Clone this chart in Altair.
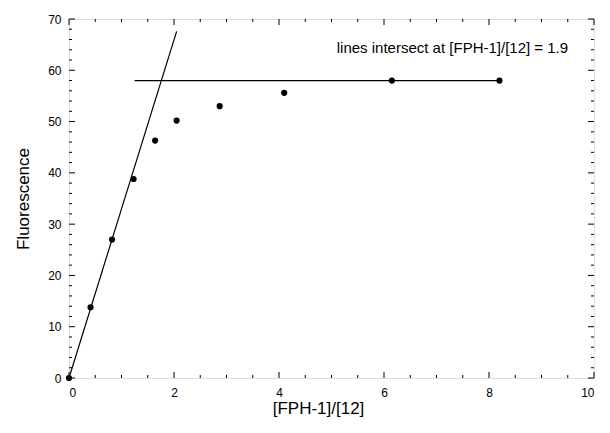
import altair as alt
import pandas as pd

# data
ratio = [0.0, 0.41, 0.82, 1.23, 1.64, 2.05, 2.87, 4.10, 6.15, 8.20]
fluor = [0.0, 13.8, 27.0, 38.8, 46.3, 50.2, 53.0, 55.6, 58.0, 58.0]

steep_x = [0.0, 2.05]
steep_y = [0.0, 67.6]
flat_x = [1.25, 8.2]
flat_y = [58.0, 58.0]

note_text = ["lines intersect at [FPH-1]/[12] = 1.9"]
note_x = [5.1]
note_y = [64.4]

x_major = [0, 2, 4, 6, 8, 10]
x_minor = [v * 0.5 for v in range(21) if v % 4 != 0]
y_major = [0, 10, 20, 30, 40, 50, 60, 70]
y_minor = [v for v in range(0, 71, 2) if v % 10 != 0]

W, H = 525, 359
FONT = "Liberation Sans"

xs = alt.Scale(domain=[0, 10], nice=False, zero=False)
ys = alt.Scale(domain=[0, 70], nice=False, zero=False)

pts = pd.DataFrame({"x": ratio, "y": fluor})
steep = pd.DataFrame({"x": steep_x, "y": steep_y})
flat = pd.DataFrame({"x": flat_x, "y": flat_y})
note = pd.DataFrame({"t": note_text, "x": note_x, "y": note_y})

base_x = alt.X("x:Q", scale=xs,
               axis=alt.Axis(values=x_major, format="d", ticks=False, domain=False, grid=False,
                             labelFont=FONT, labelFontSize=12, labelColor="black", labelPadding=9,
                             title="[FPH-1]/[12]", titleFont=FONT, titleFontSize=17,
                             titleFontWeight="normal", titleColor="black",
                             titleX=249, titleY=22, titleBaseline="top"))
base_y = alt.Y("y:Q", scale=ys,
               axis=alt.Axis(values=y_major, format="d", ticks=False, domain=False, grid=False,
                             labelFont=FONT, labelFontSize=12, labelColor="black", labelPadding=8,
                             title="Fluorescence", titleFont=FONT, titleFontSize=17,
                             titleFontWeight="normal", titleColor="black", titlePadding=15))

points = alt.Chart(pts).mark_circle(size=38, color="black", opacity=1).encode(x=base_x, y=base_y)
l1 = alt.Chart(steep).mark_line(color="black", strokeWidth=1.2).encode(
    x=alt.X("x:Q", scale=xs), y=alt.Y("y:Q", scale=ys))
l2 = alt.Chart(flat).mark_line(color="black", strokeWidth=1.2).encode(
    x=alt.X("x:Q", scale=xs), y=alt.Y("y:Q", scale=ys))
txt = alt.Chart(note).mark_text(align="left", baseline="middle", font=FONT, fontSize=15,
                                color="black").encode(
    x=alt.X("x:Q", scale=xs), y=alt.Y("y:Q", scale=ys), text="t:N")


def xticks(vals, length):
    df = pd.DataFrame({"x": vals})
    bot = alt.Chart(df).mark_rule(color="black", strokeWidth=1).encode(
        x=alt.X("x:Q", scale=xs), y=alt.value(H), y2=alt.value(H - length))
    top = alt.Chart(df).mark_rule(color="black", strokeWidth=1).encode(
        x=alt.X("x:Q", scale=xs), y=alt.value(0), y2=alt.value(length))
    return bot + top


def yticks(vals, length):
    df = pd.DataFrame({"y": vals})
    left = alt.Chart(df).mark_rule(color="black", strokeWidth=1).encode(
        y=alt.Y("y:Q", scale=ys), x=alt.value(0), x2=alt.value(length))
    right = alt.Chart(df).mark_rule(color="black", strokeWidth=1).encode(
        y=alt.Y("y:Q", scale=ys), x=alt.value(W), x2=alt.value(W - length))
    return left + right


chart = alt.layer(
    points, l1, l2, txt,
    xticks(x_major, 6), xticks(x_minor, 3),
    yticks(y_major, 6), yticks(y_minor, 3),
).properties(
    width=W, height=H,
    autosize=alt.AutoSizeParams(type="none"),
    padding={"left": 61, "top": 11, "right": 8, "bottom": 45},
).configure_view(stroke="black", strokeWidth=1.2).configure(background="white")

chart.save("out.html", embed_options={"renderer": "svg", "actions": False})
